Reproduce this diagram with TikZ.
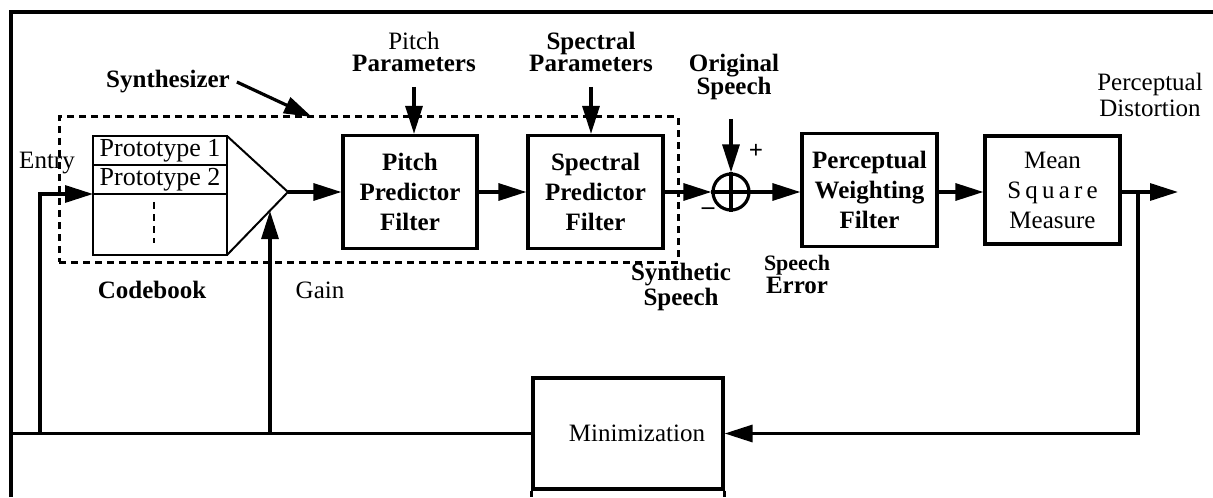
\documentclass[tikz,border=0pt]{standalone}
\usepackage{fontspec}
\setmainfont{Liberation Serif}
\usetikzlibrary{positioning}
\usetikzlibrary{calc}
\usetikzlibrary{arrows.meta}

\tikzset{
	wire/.style={line width=1.6pt},
	sig/.style={line width=1.6pt, -{Triangle[length=14pt,width=8.5pt]}},
	block/.style={draw, line width=1.6pt, inner sep=0pt, align=center,
		font=\fontsize{12.5}{15}\selectfont\bfseries},
	plainblock/.style={block, font=\fontsize{12.5}{15}\selectfont},
	cell/.style={draw, line width=1pt, inner sep=0pt, outer sep=0pt,
		minimum width=67pt, font=\fontsize{13}{15}\selectfont},
	synthbox/.style={line width=1.5pt, dash pattern=on 3.5pt off 2.5pt},
	txt/.style={align=center, font=\fontsize{12.5}{15}\selectfont},
	boldtxt/.style={align=center, font=\fontsize{12.5}{15}\selectfont\bfseries}
}

\begin{document}
\begin{tikzpicture}[x=0.5pt, y=-0.5pt]

\useasboundingbox (0,0) rectangle (1213,497);

\coordinate (frametl) at (11,12);
\coordinate (framebl) at (11,497);
\coordinate (frametr) at (1213,12);

\node[
	draw,
	synthbox,
	minimum width=309.5pt,
	minimum height=72.5pt
] (synth) at (368.5,189.5) {};

\node[
	cell,
	minimum height=14.5pt
] (proto1) at (160,150.5) {Prototype 1};

\node[
	cell,
	minimum height=14.5pt,
	below=0pt of proto1
] (proto2) {Prototype 2};

\node[
	cell,
	minimum height=30.5pt,
	below=0pt of proto2
] (cbrest) {};

\coordinate (apex) at (288,192);

\node[
	block,
	minimum width=67pt,
	minimum height=56.5pt
] (pitch) at (410,192) {Pitch\\Predictor\\Filter};

\node[
	block,
	minimum width=67.5pt,
	minimum height=56.5pt
] (spectral) at (595.5,192) {Spectral\\Predictor\\Filter};

\node[
	draw,
	circle,
	line width=1.6pt,
	minimum size=18pt,
	inner sep=0pt
] (sum) at (731,192) {};

\node[
	block,
	minimum width=67.5pt,
	minimum height=56.5pt
] (weighting) at (869.5,190) {Perceptual\\Weighting\\Filter};

\node[
	plainblock,
	minimum width=67.5pt,
	minimum height=54pt
] (measure) at (1052.5,190) {Mean\\S\,q\,u\,a\,r\,e\\Measure};

\node[
	plainblock,
	minimum width=95pt,
	minimum height=55.5pt
] (minim) at (628,433.5) {\hspace*{9pt}Minimization};

% ---

\node[boldtxt] (synthlabel) at (168,82) {Synthesizer};
\node[txt, font=\fontsize{12.5}{11}\selectfont] (pitchpar) at (414,52) {Pitch\\\textbf{Parameters}};
\node[boldtxt, font=\fontsize{12.5}{11}\selectfont\bfseries] (specpar) at (591,52) {Spectral\\Parameters};
\node[boldtxt, font=\fontsize{12.5}{11.5}\selectfont\bfseries] (origsp) at (734,77) {Original\\Speech};
\node[boldtxt, font=\fontsize{12.5}{10.5}\selectfont\bfseries] (synthsp) at (681,287) {Synthetic\\Speech};
\node[boldtxt, font=\fontsize{12.5}{11.5}\selectfont\bfseries] (errsp) at (797,274) {{\fontsize{11}{11}\selectfont Speech}\\Error};
\node[txt, font=\fontsize{12.5}{13}\selectfont] (distlabel) at (1150,95) {Perceptual\\Distortion};
\node[txt] (entrylabel) at (47,163) {Entry};
\node[boldtxt] (cblabel) at (152,290) {Codebook};
\node[txt] (gainlabel) at (320,290) {Gain};
\node[boldtxt] (plus) at (756,151) {+};
\node[boldtxt] (minus) at (708,211) {--};

\coordinate (synthtip) at (312,117);
\coordinate (entryfoot) at (40,433.5);
\coordinate (gainfoot) at (270,433.5);
\coordinate (gaintip) at (270,211);
\coordinate (tap) at (1138,192);
\coordinate (distout) at (1178,192);

% ---

\draw[line width=1.6pt] (framebl) -- (frametl) -- (frametr);

\draw[line width=1pt] (proto1.north east) -- (apex) -- (cbrest.south east);
\draw[synthbox, line width=1.2pt] ([xshift=-3pt,yshift=-4pt]cbrest.north)
	-- ([xshift=-3pt,yshift=6pt]cbrest.south);

\draw[sig] (synthlabel.east) -- (synthtip);
\draw[sig, shorten <=4pt] (pitchpar.south) -- (pitchpar.south |- pitch.north);
\draw[sig, shorten <=4pt] (specpar.south) -- (specpar.south |- spectral.north);
\draw[sig, shorten <=6pt] (origsp.south -| sum) -- (sum.north);

\draw[wire] (sum.north) -- (sum.south) (sum.west) -- (sum.east);

\draw[sig] (entryfoot) |- (proto2.south west);
\draw[sig] (gainfoot) -- (gaintip);
\draw[sig] (apex) -- (pitch.west);
\draw[sig] (pitch.east) -- (spectral.west);
\draw[sig] (spectral.east) -- (sum.west);
\draw[sig] (sum.east) -- (weighting.west |- sum);
\draw[sig] (weighting.east |- sum) -- (measure.west |- sum);
\draw[sig] (measure.east |- sum) -- (distout);
\draw[sig] (tap) |- (minim.east);

\draw[wire] (minim.west) -- (minim.west -| frametl);
\draw[wire] (minim.south west) -- (minim.south west |- framebl);
\draw[wire] (minim.south east) -- (minim.south east |- framebl);

\end{tikzpicture}
\end{document}
